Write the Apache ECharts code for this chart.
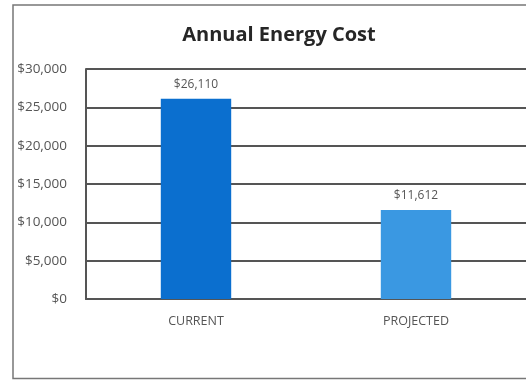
<!DOCTYPE html>
<html><head><meta charset="utf-8">
<script src="https://cdn.jsdelivr.net/npm/echarts@6/dist/echarts.min.js"></script>
<style>html,body{margin:0;padding:0;background:#fff;overflow:hidden}
#c{width:526px;height:380px}</style>
</head><body><div id="c"></div>
<script>
const categories = ['CURRENT', 'PROJECTED'];
const costValues = [26110, 11612];
const barColors = ['#0b6fcf', '#3a98e2'];
const yTicks = [0, 5000, 10000, 15000, 20000, 25000, 30000];

const chart = echarts.init(document.getElementById('c'));
chart.setOption({
  animation: false,
  graphic: [{
    type: 'polyline', silent: true,
    shape: { points: [[540, 5], [13, 5], [13, 378.5], [540, 378.5]] },
    style: { stroke: '#777', lineWidth: 1.5, fill: null }
  }],
  title: {
    text: 'Annual Energy Cost', left: 274, top: 20, textAlign: 'center',
    textStyle: { fontFamily: 'Open Sans', fontWeight: 'bold', fontSize: 20, color: '#262626' }
  },
  grid: { left: 86, top: 69, width: 450, height: 230, containLabel: false },
  xAxis: {
    type: 'category', data: categories,
    axisLine: { show: true, lineStyle: { color: '#555', width: 2 } },
    axisTick: { show: false },
    axisLabel: { fontFamily: 'Open Sans', fontSize: 12.5, color: '#555', margin: 16 }
  },
  yAxis: {
    type: 'value', min: yTicks[0], max: yTicks[yTicks.length - 1], interval: 5000,
    axisLine: { show: true, lineStyle: { color: '#555', width: 2 } },
    axisTick: { show: false },
    splitLine: { lineStyle: { color: '#555', width: 2 } },
    axisLabel: {
      fontFamily: 'Open Sans', fontSize: 13.5, color: '#555', margin: 19,
      formatter: v => '$' + v.toLocaleString('en-US')
    }
  },
  series: [{
    type: 'bar', barWidth: '32%',
    data: costValues.map((v, i) => ({ value: v, itemStyle: { color: barColors[i] } })),
    label: {
      show: true, position: 'top', distance: 8,
      fontFamily: 'Open Sans', fontSize: 12, color: '#555',
      formatter: p => '$' + p.value.toLocaleString('en-US')
    }
  }]
});
</script></body></html>
